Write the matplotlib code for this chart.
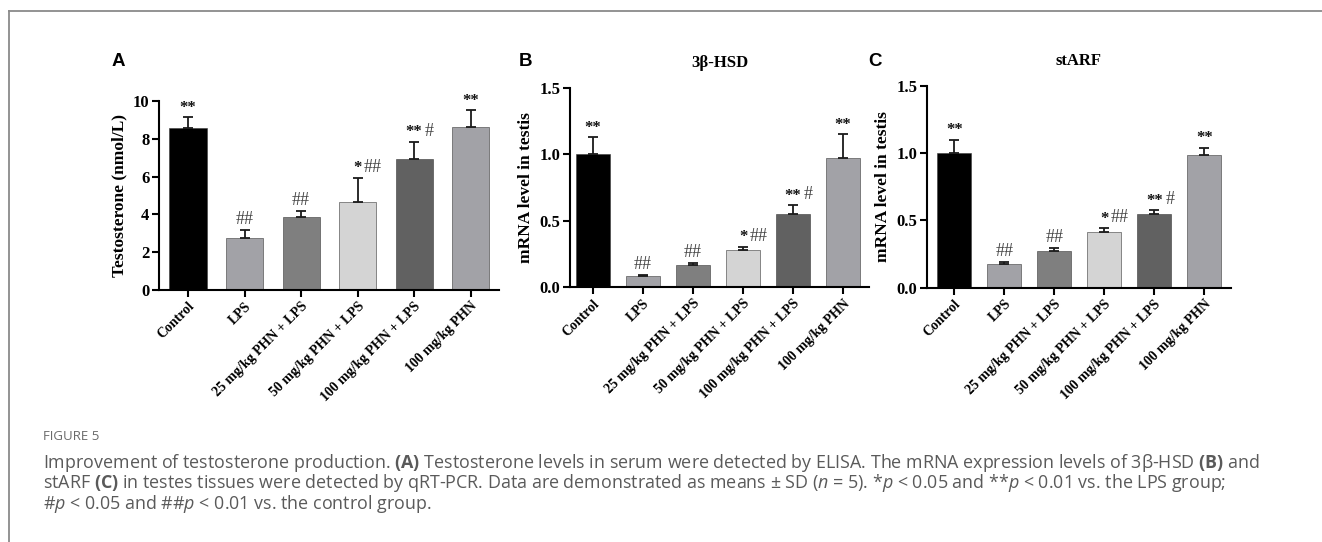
import matplotlib
matplotlib.use("Agg")
import matplotlib.pyplot as plt
from matplotlib.lines import Line2D

# ---------------- data ----------------
groups = ["Control", "LPS", "25 mg/kg PHN + LPS", "50 mg/kg PHN + LPS",
          "100 mg/kg PHN + LPS", "100 mg/kg PHN"]
bar_colors = ["#000000", "#a2a2a7", "#7f7f7f", "#d4d4d4", "#616161", "#a2a2a7"]

testo_mean = [8.58, 2.73, 3.88, 4.66, 6.93, 8.60]
testo_sd = [0.56, 0.44, 0.30, 1.28, 0.92, 0.90]
testo_stars = ["**", "", "", "*", "**", "**"]
testo_hash = ["", "##", "##", "##", "#", ""]

hsd_mean = [1.00, 0.085, 0.165, 0.283, 0.551, 0.97]
hsd_sd = [0.13, 0.010, 0.015, 0.022, 0.065, 0.18]
hsd_stars = ["**", "", "", "*", "**", "**"]
hsd_hash = ["", "##", "##", "##", "#", ""]

starf_mean = [1.00, 0.176, 0.270, 0.413, 0.550, 0.985]
starf_sd = [0.10, 0.015, 0.022, 0.027, 0.025, 0.055]
starf_stars = ["**", "", "", "*", "**", "**"]
starf_hash = ["", "##", "##", "##", "#", ""]

# ---------------- fonts ----------------
SERIF = "Liberation Serif"
SANS = "Liberation Sans"
CAP = "Open Sans"
cap_size = 12.9

plt.rcParams["mathtext.fontset"] = "custom"
plt.rcParams["mathtext.rm"] = CAP
plt.rcParams["mathtext.it"] = CAP + ":italic"
plt.rcParams["mathtext.bf"] = CAP + ":bold"

fig = plt.figure(figsize=(13.22, 5.42), dpi=100)
W, H = 1322, 542


def ax_rect(l, r, t, b):
    return [l / W, 1 - b / H, (r - l) / W, (b - t) / H]


def panel(rect, means, sds, stars, hashes, ylim, yticks, yfmt, ylabel,
          xlim, width, title=None):
    ax = fig.add_axes(rect)
    x = list(range(len(groups)))
    ax.bar(x, means, width=width, color=bar_colors, edgecolor="#3a3a3a",
           linewidth=0.4, zorder=2)
    ax.errorbar(x, means, yerr=[[0] * len(sds), sds], fmt="none",
                ecolor="#1a1a1a", elinewidth=1.3, capsize=3.6, capthick=1.3,
                zorder=3)
    ax.set_xlim(*xlim)
    ax.set_ylim(*ylim)
    ax.set_yticks(yticks)
    ax.set_yticklabels([yfmt.format(v) for v in yticks], fontfamily=SERIF,
                       fontweight="bold", fontsize=12)
    ax.set_xticks(x)
    ax.set_xticklabels(groups, rotation=45, ha="right", rotation_mode="anchor",
                       fontfamily=SERIF, fontweight="bold", fontsize=10)
    for s in ("top", "right"):
        ax.spines[s].set_visible(False)
    for s in ("left", "bottom"):
        ax.spines[s].set_linewidth(1.5)
    ax.tick_params(axis="both", length=5, width=1.5, pad=2)
    ax.set_ylabel(ylabel, fontfamily=SERIF, fontweight="bold", fontsize=12.5,
                  labelpad=4)
    for xi, m, sd, st, hs in zip(x, means, sds, stars, hashes):
        top = m + sd
        if st:
            ax.annotate(st, (xi, top), xytext=(0, 1.0), textcoords="offset points",
                        ha="center", va="bottom", fontfamily=SERIF,
                        fontweight="bold", fontsize=12, color="#111111")
        if hs:
            off = (3.2 * len(st) + 1.5) if st else 0
            ax.annotate(hs, (xi, top), xytext=(off, 1.5), textcoords="offset points",
                        ha="left" if st else "center", va="bottom",
                        fontfamily=SERIF, fontsize=13, color="#444444")
    if title:
        ax.set_title(title, fontfamily=SERIF, fontweight="bold", fontsize=12,
                     pad=15)
    return ax


axA = panel(ax_rect(159, 499, 101, 290), testo_mean, testo_sd, testo_stars,
            testo_hash, (0, 10), [0, 2, 4, 6, 8, 10], "{:g}",
            "Testosterone (nmol/L)", (-0.513, 5.5), 0.655)
axB = panel(ax_rect(570, 869, 87.7, 287.3), hsd_mean, hsd_sd, hsd_stars,
            hsd_hash, (0, 1.5), [0, 0.5, 1.0, 1.5], "{:.1f}",
            "mRNA level in testis", (-0.46, 5.52), 0.68, title="3β-HSD")
axC = panel(ax_rect(927.3, 1230.7, 85.7, 287.7), starf_mean, starf_sd,
            starf_stars, starf_hash, (0, 1.5), [0, 0.5, 1.0, 1.5], "{:.1f}",
            "mRNA level in testis", (-0.54, 5.53), 0.68, title="stARF")

# panel letters
for lbl, px in (("A", 118), ("B", 525), ("C", 875)):
    fig.text(px / W, 1 - 61 / H, lbl, fontfamily=SANS, fontweight="bold",
             fontsize=13.5, ha="center", va="center")

# frame lines
fig.add_artist(Line2D([9 / W, 1.0], [1 - 11 / H, 1 - 11 / H], color="#8a8a8a",
                      linewidth=1.3, transform=fig.transFigure))
fig.add_artist(Line2D([9 / W, 9 / W], [1 - 11 / H, 0.0], color="#8a8a8a",
                      linewidth=1.3, transform=fig.transFigure))

# caption
cap_color = "#5a5a5a"
fig.text(43 / W, 1 - 437 / H, "FIGURE 5", fontfamily=CAP, fontsize=9.5,
         color="#6a6a6a", ha="left", va="center")
lines = [
    r"Improvement of testosterone production. $\mathbf{(A)}$ Testosterone levels in serum were detected by ELISA. The mRNA expression levels of 3β-HSD $\mathbf{(B)}$ and",
    r"stARF $\mathbf{(C)}$ in testes tissues were detected by qRT-PCR. Data are demonstrated as means ± SD ($n$ = 5). *$p$ < 0.05 and **$p$ < 0.01 vs. the LPS group;",
    r"#$p$ < 0.05 and ##$p$ < 0.01 vs. the control group.",
]
for i, ln in enumerate(lines):
    fig.text(43 / W, 1 - (463 + 20.5 * i) / H, ln, fontfamily=CAP, fontsize=cap_size,
             color=cap_color, ha="left", va="center")

fig.savefig("out.png", dpi=100, facecolor="white")
